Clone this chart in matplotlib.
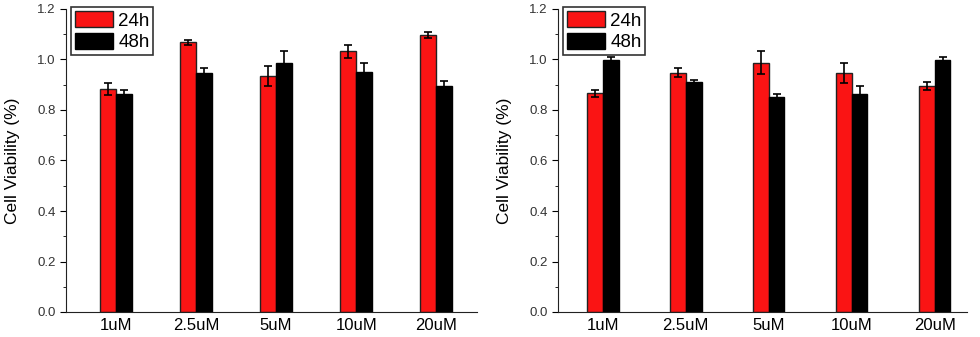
import matplotlib.pyplot as plt
import numpy as np
from matplotlib.ticker import MultipleLocator

plt.rcParams['font.family'] = ['Liberation Sans', 'DejaVu Sans']

doses = ["1uM", "2.5uM", "5uM", "10uM", "20uM"]

# panel a
a_24h = [0.884, 1.068, 0.936, 1.032, 1.096]
a_24h_err = [0.023, 0.011, 0.040, 0.025, 0.011]
a_48h = [0.864, 0.948, 0.988, 0.949, 0.897]
a_48h_err = [0.014, 0.017, 0.045, 0.039, 0.016]

# panel b
b_24h = [0.866, 0.948, 0.988, 0.948, 0.896]
b_24h_err = [0.014, 0.017, 0.045, 0.040, 0.016]
b_48h = [0.999, 0.909, 0.852, 0.863, 0.999]
b_48h_err = [0.012, 0.011, 0.010, 0.033, 0.012]


def draw_panel(ax, v24, e24, v48, e48, xlim, width):
    x = np.arange(len(doses))
    ax.bar(x - width / 2, v24, width, color='#fa1414', edgecolor='#222222', linewidth=1, label='24h')
    ax.bar(x + width / 2, v48, width, color='black', edgecolor='black', linewidth=1, label='48h')
    ax.errorbar(x - width / 2, v24, yerr=e24, fmt='none', ecolor='black', elinewidth=1.2, capsize=3, capthick=1.2)
    ax.errorbar(x + width / 2, v48, yerr=e48, fmt='none', ecolor='black', elinewidth=1.2, capsize=3, capthick=1.2)

    ax.set_xlim(*xlim)
    ax.set_ylim(0, 1.2)
    ax.set_xticks(x)
    ax.set_xticklabels(doses, fontsize=12)
    ax.tick_params(axis='x', length=0, pad=4)
    ax.yaxis.set_major_locator(MultipleLocator(0.2))
    ax.yaxis.set_minor_locator(MultipleLocator(0.1))
    ax.yaxis.set_major_formatter(plt.FuncFormatter(lambda v, p: f"{v:.1f}"))
    ax.tick_params(axis='y', which='major', direction='out', length=4, labelsize=9.5, labelcolor='#333333')
    ax.tick_params(axis='y', which='minor', direction='out', length=2.5)
    ax.spines['top'].set_visible(False)
    ax.spines['right'].set_visible(False)
    for s in ('left', 'bottom'):
        ax.spines[s].set_color('#222222')
    ax.set_ylabel("Cell Viability (%)", fontsize=12.5, labelpad=12)

    leg = ax.legend(loc='upper left', bbox_to_anchor=(0.013, 1.005), fontsize=13.5, frameon=True,
                    fancybox=False, edgecolor='black', handlelength=2.0, handleheight=0.95,
                    handletextpad=0.3, labelspacing=0.15, borderpad=0.2, borderaxespad=0)
    leg.get_frame().set_linewidth(1.2)


fig = plt.figure(figsize=(9.8, 3.37), dpi=100)
ax1 = fig.add_axes([66 / 980, 1 - 312 / 337, 411 / 980, 303 / 337])
ax2 = fig.add_axes([558 / 980, 1 - 312 / 337, 409 / 980, 303 / 337])

draw_panel(ax1, a_24h, a_24h_err, a_48h, a_48h_err, (-0.625, 4.51), 0.2)
draw_panel(ax2, b_24h, b_24h_err, b_48h, b_48h_err, (-0.54, 4.39), 0.19)

fig.savefig("out.png", dpi=100)
